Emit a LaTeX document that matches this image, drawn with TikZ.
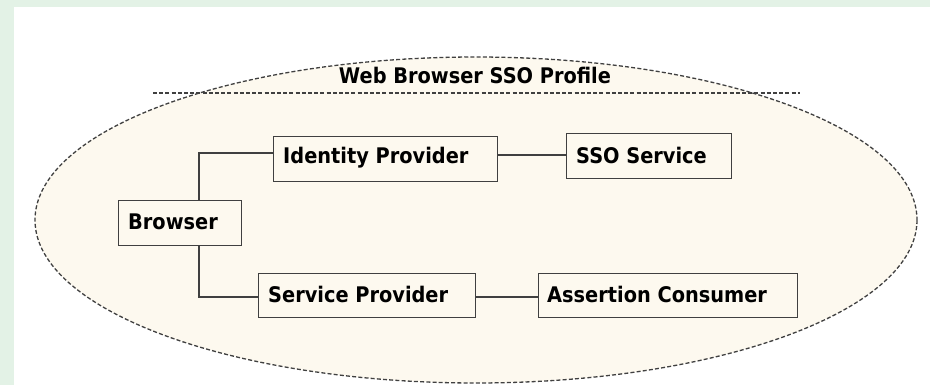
\documentclass[tikz,border=0pt]{standalone}
\usepackage{fontspec}
\usepackage{graphicx}
\setmainfont{DejaVu Sans}
\definecolor{bggreen}{HTML}{E3F2E6}
\definecolor{cream}{HTML}{FDF9EF}
\definecolor{edge}{HTML}{404040}
\newcommand{\vt}[1]{\scalebox{0.9}[1]{#1}}
\begin{document}
\begin{tikzpicture}[x=1pt,y=-1pt,
  box/.style={draw=edge,line width=1.4pt,fill=cream,inner sep=0pt,anchor=north west},
  lbl/.style={anchor=west,inner sep=0pt,font=\bfseries\fontsize{21.5}{24}\selectfont},
  link/.style={draw=edge,line width=1.4pt},
  dsh/.style={draw=edge,line width=1.3pt,dash pattern=on 4pt off 2.2pt}]
\useasboundingbox (0,0) rectangle (930,385);
\fill[bggreen] (0,0) rectangle (930,385);
\fill[white] (14,7) rectangle (930,385);
\draw[dsh,fill=cream] (476,220) ellipse [x radius=441, y radius=163];
\node[lbl,anchor=center] (title) at (475,75) {\vt{Web Browser SSO Profile}};
\coordinate (dl) at (153,93);
\coordinate (dr) at (800,93);
\draw[dsh] (dl) -- (dr);
\node[box,minimum width=224pt,minimum height=45pt] (idp) at (273,136) {};
\node[lbl] (idpt) at (283,158) {\vt{Identity Provider}};
\node[box,minimum width=123pt,minimum height=45pt] (br) at (118,200) {};
\node[lbl] (brt) at (128,222) {\vt{Browser}};
\node[box,minimum width=217pt,minimum height=44pt] (sp) at (258,273) {};
\node[lbl] (spt) at (268,294) {\vt{Service Provider}};
\node[box,minimum width=165pt,minimum height=45pt] (sso) at (566,133) {};
\node[lbl] (ssot) at (576,155) {\vt{SSO Service}};
\node[box,minimum width=259pt,minimum height=44pt] (ac) at (538,273) {};
\node[lbl] (act) at (547,294) {\vt{Assertion Consumer}};
\draw[link] (br.north west -| 199,0) -- (199,153) -- (idp.west |- 0,153);
\draw[link] (br.south west -| 199,0) -- (199,297) -- (sp.west |- 0,297);
\draw[link] (idp.east |- 0,155) -- (sso.west |- 0,155);
\draw[link] (sp.east |- 0,297) -- (ac.west |- 0,297);
\end{tikzpicture}
\end{document}
